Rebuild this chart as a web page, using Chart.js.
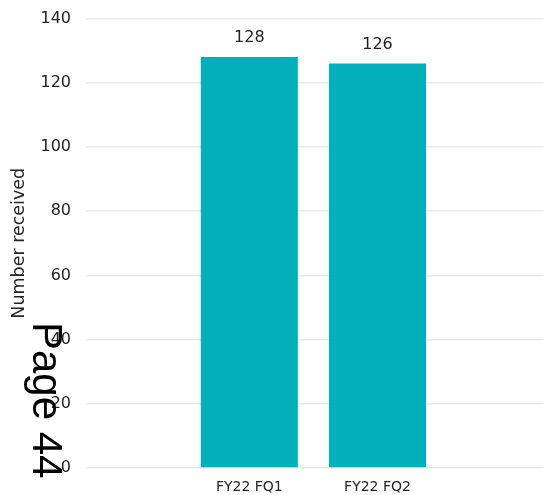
<!DOCTYPE html>
<html>
<head>
<meta charset="utf-8">
<script src="https://cdn.jsdelivr.net/npm/chart.js@4/dist/chart.umd.min.js"></script>
<style>
  html, body { margin: 0; padding: 0; background: #fff; }
  #wrap { width: 543px; height: 495px; position: relative; }
</style>
</head>
<body>
<div id="wrap"><canvas id="chart"></canvas></div>
<script>
// ==================== data ====================
const quarters = ["FY22 FQ1", "FY22 FQ2"];
const received = [128, 126];
const yTicks = [0, 20, 40, 60, 80, 100, 120, 140];

const BAR_COLOR = "#01b0bb";
const TEXT_COLOR = "#252423";
const GRID_COLOR = "#e9e9e9";

// value labels above the bars
const valueLabels = {
  id: "valueLabels",
  afterDatasetsDraw(chart) {
    const ctx = chart.ctx;
    const meta = chart.getDatasetMeta(0);
    ctx.save();
    ctx.font = "16px 'DejaVu Sans'";
    ctx.fillStyle = TEXT_COLOR;
    ctx.textAlign = "center";
    ctx.textBaseline = "middle";
    meta.data.forEach((bar, i) => {
      ctx.fillText(String(received[i]), bar.x, bar.y - 19);
    });
    ctx.restore();
  },
};

// the "Page 44" stamp that lies over the axis
const pageStamp = {
  id: "pageStamp",
  afterDraw(chart) {
    const ctx = chart.ctx;
    ctx.save();
    ctx.translate(33, 322);
    ctx.rotate(Math.PI / 2);
    ctx.font = "42px 'Liberation Sans'";
    ctx.fillStyle = "#000";
    ctx.textAlign = "left";
    ctx.textBaseline = "alphabetic";
    ctx.fillText("Page 44", 0, 0);
    ctx.restore();
  },
};

new Chart(document.getElementById("chart"), {
  type: "bar",
  data: {
    datasets: [{
      data: received.map((v, i) => ({ x: i + 1, y: v })),
      backgroundColor: BAR_COLOR,
      barPercentage: 0.757,
      categoryPercentage: 1,
    }],
  },
  options: {
    responsive: true,
    maintainAspectRatio: false,
    animation: false,
    layout: { padding: { top: 18.5, right: 0, bottom: 0, left: 0 } },
    plugins: {
      legend: { display: false },
      tooltip: { enabled: false },
    },
    scales: {
      x: {
        type: "linear",
        offset: false,
        min: -0.274,
        max: 3.291,
        grid: { display: false, drawTicks: false },
        border: { display: false },
        afterBuildTicks: (scale) => {
          scale.ticks = quarters.map((_, i) => ({ value: i + 1 }));
        },
        ticks: {
          padding: 11,
          color: TEXT_COLOR,
          font: { family: "DejaVu Sans", size: 14 },
          callback: (val) => quarters[val - 1] || "",
        },
        afterFit: (scale) => {
          scale.height = 27;
          scale.paddingLeft = 0;
          scale.paddingRight = 0;
        },
      },
      y: {
        min: 0,
        max: 140,
        afterBuildTicks: (scale) => {
          scale.ticks = yTicks.map((v) => ({ value: v }));
        },
        grid: { color: GRID_COLOR, lineWidth: 1.5, drawTicks: false },
        border: { display: false },
        ticks: {
          padding: 15,
          color: TEXT_COLOR,
          font: { family: "DejaVu Sans", size: 16 },
        },
        title: {
          display: true,
          text: "Number received",
          color: TEXT_COLOR,
          font: { family: "DejaVu Sans", size: 17.5 },
          padding: { top: 9, bottom: 0 },
        },
        afterFit: (scale) => {
          scale.width = 86;
          scale.paddingTop = 0;
          scale.paddingBottom = 0;
        },
      },
    },
  },
  plugins: [valueLabels, pageStamp],
});
</script>
</body>
</html>
